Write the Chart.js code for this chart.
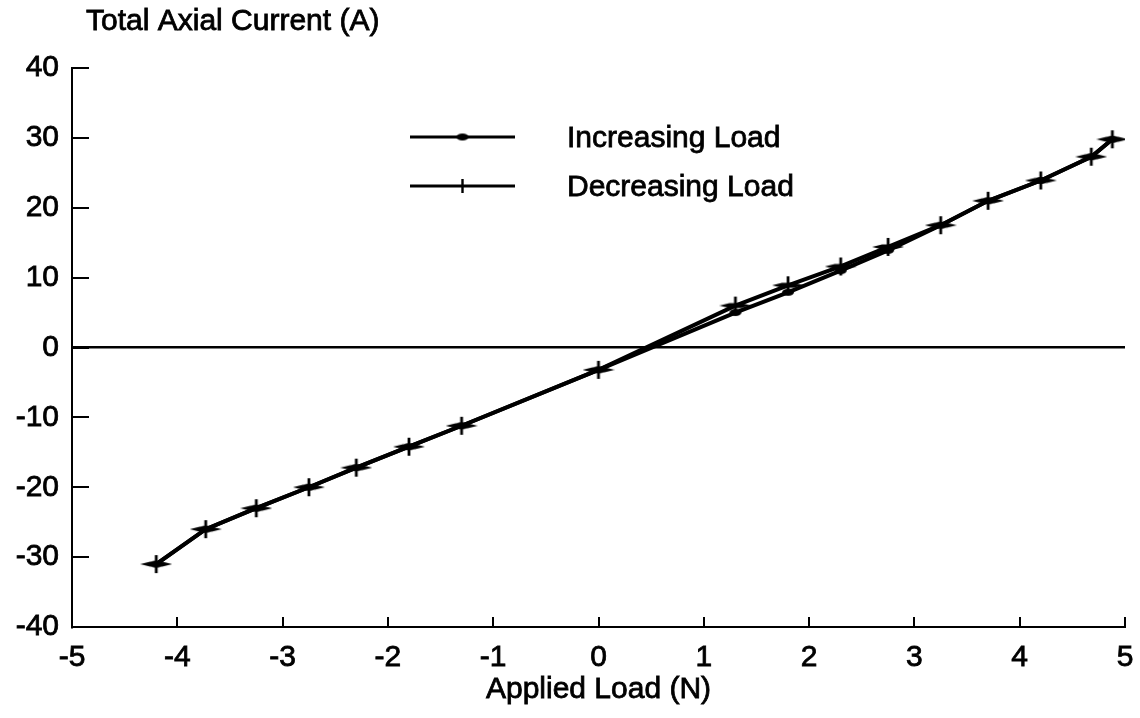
<!DOCTYPE html>
<html>
<head>
<meta charset="utf-8">
<script src="https://cdn.jsdelivr.net/npm/chart.js@4/dist/chart.umd.min.js"></script>
<style>
  html, body { margin: 0; padding: 0; background: #fff; }
  #wrap { width: 1140px; height: 718px; }
</style>
</head>
<body>
<div id="wrap"><canvas id="c" width="1140" height="718"></canvas></div>
<script>
// Applied load (N) at each measurement step
const loads = [-4.2, -3.73, -3.25, -2.75, -2.3, -1.8, -1.3, 0, 1.3, 1.8, 2.3, 2.75, 3.25, 3.7, 4.2, 4.68, 4.88];
// Total axial current (A) while the load is raised
const increasingCurrent = [-31.0, -26.0, -23.0, -20.0, -17.2, -14.2, -11.2, -3.2, 5.0, 7.9, 11.0, 13.9, 17.5, 21.0, 23.9, 27.3, 29.8];
// Total axial current (A) while the load is lowered
const decreasingCurrent = [-31.0, -26.0, -23.0, -20.0, -17.2, -14.2, -11.2, -3.2, 6.0, 8.9, 11.6, 14.4, 17.5, 21.0, 23.9, 27.3, 29.8];

const xTicks = [-5, -4, -3, -2, -1, 0, 1, 2, 3, 4, 5];
const yTicks = [-40, -30, -20, -10, 0, 10, 20, 30, 40];

const yTitle = 'Total Axial Current (A)';
const xTitle = 'Applied Load (N)';
const seriesNames = ['Increasing Load', 'Decreasing Load'];

const FONT = '"Liberation Sans", Arial, Helvetica, sans-serif';
const FONT_SIZE = 30;
const TEXT_STROKE = 0.8;

// marker: small horizontal dot
function makeDot() {
  const c = document.createElement('canvas');
  c.width = 14; c.height = 9;
  const g = c.getContext('2d');
  g.fillStyle = '#000';
  g.beginPath();
  g.ellipse(7, 4.5, 6, 3.5, 0, 0, Math.PI * 2);
  g.fill();
  return c;
}
// marker: plus sign with long, tapering horizontal arm
function makeCross() {
  const c = document.createElement('canvas');
  c.width = 32; c.height = 20;
  const g = c.getContext('2d');
  g.fillStyle = '#000';
  g.beginPath();
  g.moveTo(0, 10);
  g.lineTo(10, 7.5);
  g.lineTo(22, 7.5);
  g.lineTo(32, 10);
  g.lineTo(22, 12.5);
  g.lineTo(10, 12.5);
  g.closePath();
  g.fill();
  g.fillRect(14.6, 1, 2.8, 18);
  return c;
}
const dotMark = makeDot();
const crossMark = makeCross();

function pts(xs, ys) { return xs.map((x, i) => ({ x: x, y: ys[i] })); }

function heavyText(ctx, text, x, y) {
  ctx.fillText(text, x, y);
  ctx.lineWidth = TEXT_STROKE;
  ctx.strokeText(text, x, y);
}

// inward tick marks, axis titles and the legend
const decorations = {
  id: 'decorations',
  afterDraw(chart) {
    const { ctx, chartArea } = chart;
    const xs = chart.scales.x, ys = chart.scales.y;
    ctx.save();
    ctx.strokeStyle = '#000';
    ctx.lineWidth = 2;
    ctx.beginPath();
    yTicks.forEach(v => {
      const py = Math.round(ys.getPixelForValue(v));
      ctx.moveTo(chartArea.left, py);
      ctx.lineTo(chartArea.left + 17, py);
    });
    xTicks.forEach(v => {
      const px = Math.round(xs.getPixelForValue(v));
      ctx.moveTo(px, chartArea.bottom);
      ctx.lineTo(px, chartArea.bottom - 10);
    });
    ctx.stroke();

    ctx.fillStyle = '#000';
    ctx.font = FONT_SIZE + 'px ' + FONT;
    ctx.textBaseline = 'middle';
    ctx.textAlign = 'left';
    heavyText(ctx, yTitle, chartArea.left + 14, 22);

    ctx.textAlign = 'center';
    heavyText(ctx, xTitle, (chartArea.left + chartArea.right) / 2, 690);

    // legend
    ctx.textAlign = 'left';
    const lx0 = 410, lx1 = 515, tx = 567;
    const rows = [137, 186];
    chart.data.datasets.forEach((ds, i) => {
      const y = rows[i];
      ctx.lineWidth = 3;
      ctx.beginPath();
      ctx.moveTo(lx0, y);
      ctx.lineTo(lx1, y);
      ctx.stroke();
      if (i === 0) {
        ctx.drawImage(dotMark, (lx0 + lx1) / 2 - dotMark.width / 2, y - dotMark.height / 2);
      } else {
        ctx.fillRect((lx0 + lx1) / 2 - 1.2, y - 7, 2.4, 14);
      }
      heavyText(ctx, ds.label, tx, y + 2);
    });
    ctx.restore();
  }
};

new Chart(document.getElementById('c'), {
  type: 'line',
  data: {
    datasets: [
      {
        label: seriesNames[0],
        data: pts(loads, increasingCurrent),
        borderColor: '#000',
        backgroundColor: '#000',
        borderWidth: 4,
        pointStyle: dotMark,
        pointRadius: 7,
        tension: 0,
        fill: false
      },
      {
        label: seriesNames[1],
        data: pts(loads, decreasingCurrent),
        borderColor: '#000',
        backgroundColor: '#000',
        borderWidth: 4,
        pointStyle: crossMark,
        pointRadius: 10,
        tension: 0,
        fill: false
      }
    ]
  },
  options: {
    responsive: false,
    animation: false,
    devicePixelRatio: 1,
    layout: { padding: { top: 68, right: 15, left: 0, bottom: 0 } },
    plugins: {
      legend: { display: false },
      tooltip: { enabled: false }
    },
    scales: {
      x: {
        type: 'linear',
        min: -5,
        max: 5,
        afterFit(scale) {
          scale.height = 91;
          scale.paddingLeft = 0;
          scale.paddingRight = 0;
        },
        afterBuildTicks(scale) { scale.ticks = xTicks.map(v => ({ value: v })); },
        ticks: {
          color: '#000',
          font: { family: FONT, size: FONT_SIZE },
          textStrokeColor: '#000',
          textStrokeWidth: TEXT_STROKE,
          padding: 13,
          maxRotation: 0,
          autoSkip: false
        },
        grid: { display: false, drawTicks: false },
        border: { display: true, color: '#000', width: 2 }
      },
      y: {
        type: 'linear',
        min: -40,
        max: 40,
        afterFit(scale) {
          scale.width = 72;
          scale.paddingTop = 0;
          scale.paddingBottom = 0;
        },
        afterBuildTicks(scale) { scale.ticks = yTicks.map(v => ({ value: v })); },
        ticks: {
          color: '#000',
          font: { family: FONT, size: FONT_SIZE },
          textStrokeColor: '#000',
          textStrokeWidth: TEXT_STROKE,
          padding: 13,
          autoSkip: false
        },
        grid: {
          drawTicks: false,
          color: ctx => (ctx.tick && ctx.tick.value === 0 ? '#000' : 'rgba(0,0,0,0)'),
          lineWidth: 2.5
        },
        border: { display: true, color: '#000', width: 2 }
      }
    }
  },
  plugins: [decorations]
});
</script>
</body>
</html>
